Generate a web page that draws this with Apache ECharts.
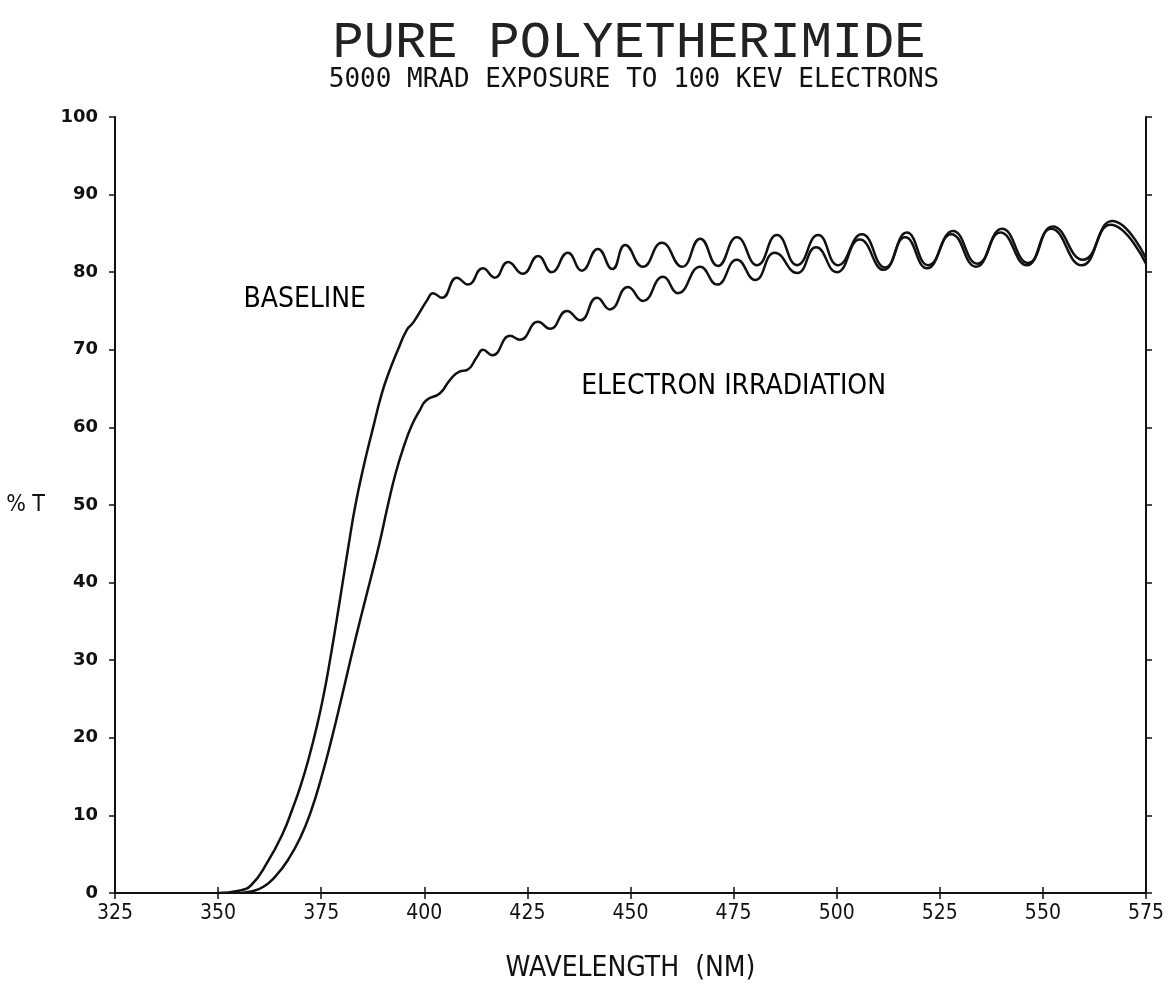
<!DOCTYPE html>
<html>
<head>
<meta charset="utf-8">
<title>Pure Polyetherimide</title>
<script src="https://cdn.jsdelivr.net/npm/echarts@6/dist/echarts.min.js"></script>
<style>
  html, body { margin: 0; padding: 0; background: #fff; }
  #chart { width: 1167px; height: 1008px; }
</style>
</head>
<body>
<div id="chart"></div>
<script>
// wavelength (nm) and %T
const baselineNm = [350, 355, 358, 362, 365.7, 368, 370, 372, 374, 375.7, 377.2, 378.7, 380.2, 381.7, 383.3, 385.3, 387.6, 389.5, 391, 393.6, 395.8, 397.3,
  400.7, 402.1, 404.3, 407.9, 410.6, 414.2, 417.1, 420.3, 423.9, 427.6, 430.9, 434.8, 438.2, 442.1, 445.6, 448.7, 453.0, 457.6, 462.5,
  466.9, 471.2, 475.8, 480.7, 485.5, 490.4, 495.5, 500.3, 506.1, 511.7, 517.0, 522.2, 528.2, 534.1, 540.1, 546.4, 552.4, 559.7, 566.8, 575];
const baselinePct = [0, 0.3, 1.0, 4.0, 7.7, 10.8, 13.8, 17.4, 21.6, 25.8, 30.2, 35, 40, 45, 50, 55, 60, 64, 66.5, 70, 72.6, 73.5,
  76.4, 77.3, 76.7, 79.3, 78.4, 80.5, 79.3, 81.3, 79.8, 82.1, 80.0, 82.5, 80.2, 83.0, 80.4, 83.5, 80.7, 83.8, 80.7,
  84.3, 80.8, 84.5, 80.9, 84.8, 80.9, 84.8, 80.9, 84.9, 80.6, 85.1, 80.9, 85.3, 81.1, 85.6, 81.2, 85.9, 81.6, 86.6, 81.8];

const electronNm = [355, 358, 361, 364, 367, 370, 372.5, 375, 377.5, 380, 382.3, 384.6, 386.9, 389.1, 391.1, 393, 395, 397, 399, 400.5,
  403.8, 406.2, 408.5, 410.4, 412.8, 414.2, 416.5, 420.8, 423.2, 427.6, 430.5, 434.6, 437.8, 441.9, 445.0, 449.4, 453.0, 457.9, 461.5,
  466.9, 471.0, 475.8, 480.2, 485.0, 490.4, 495.0, 500.0, 505.6, 511.4, 516.6, 521.9, 527.8, 533.8, 539.7, 546.1, 552.0, 559.4, 566.4, 575];
const electronPct = [0, 0.2, 0.8, 2.2, 4.3, 7.2, 10.5, 14.8, 19.8, 25.3, 30.5, 35.5, 40.3, 45, 49.8, 54, 57.5, 60.3, 62.3, 63.5,
  64.4, 66.1, 67.2, 67.4, 69.1, 70.0, 69.3, 71.8, 71.3, 73.6, 72.7, 75.0, 73.8, 76.7, 75.2, 78.1, 76.3, 79.4, 77.3,
  80.7, 78.4, 81.6, 79.0, 82.5, 79.9, 83.2, 80.0, 84.2, 80.3, 84.5, 80.5, 84.9, 80.7, 85.1, 80.9, 85.6, 80.9, 86.1, 81.1];

// curve captions, placed in data space
const captions = [
  { text: 'BASELINE', at: [371, 76.4] },
  { text: 'ELECTRON IRRADIATION', at: [475, 65.3] }
];

const xMin = 325, xMax = 575, xStep = 25;
const yMin = 0, yMax = 100, yStep = 10;

const pairs = (xs, ys) => xs.map((x, i) => [x, ys[i]]);

const narrow = '"Liberation Sans Narrow", "DejaVu Sans Condensed", "Liberation Sans", sans-serif';
const ink = '#111';

const chart = echarts.init(document.getElementById('chart'));

const axisCommon = {
  type: 'value',
  axisLine: { show: true, lineStyle: { color: ink, width: 2 } },
  axisTick: { show: true, length: 6, lineStyle: { color: ink, width: 1.5 } },
  splitLine: { show: false }
};

const caption = (c) => ({
  type: 'scatter',
  data: [c.at],
  symbol: 'rect',
  symbolSize: 0,
  itemStyle: { color: ink },
  silent: true,
  label: { show: true, position: 'inside', formatter: c.text, fontFamily: narrow, fontSize: 28, color: '#000', opacity: 1 }
});

chart.setOption({
  backgroundColor: '#fff',
  animation: false,
  title: [
    {
      text: 'PURE POLYETHERIMIDE',
      left: 624, top: 12, textAlign: 'center',
      textStyle: { fontFamily: '"Liberation Mono", monospace', fontWeight: 'normal', fontSize: 52, color: '#222' }
    },
    {
      text: '5000 MRAD EXPOSURE TO 100 KEV ELECTRONS',
      left: 629, top: 62, textAlign: 'center',
      textStyle: { fontFamily: '"DejaVu Sans Mono", monospace', fontWeight: 'normal', fontSize: 26, color: ink }
    }
  ],
  grid: { left: 115, right: 21, top: 117, bottom: 115, containLabel: false, outerBoundsMode: 'none' },
  xAxis: [
    Object.assign({}, axisCommon, {
      position: 'bottom', min: xMin, max: xMax, interval: xStep,
      name: 'WAVELENGTH  (NM)', nameLocation: 'middle', nameGap: 62,
      nameTextStyle: { fontFamily: narrow, fontSize: 28, color: ink },
      axisLabel: { margin: 10, fontFamily: narrow, fontSize: 21, color: ink }
    }),
    Object.assign({}, axisCommon, {
      position: 'top', min: xMin, max: xMax, interval: xStep,
      axisLabel: { show: false }
    })
  ],
  yAxis: [
    Object.assign({}, axisCommon, {
      position: 'left', min: yMin, max: yMax, interval: yStep,
      name: '% T', nameLocation: 'middle', nameRotate: 0, nameGap: 70,
      nameTextStyle: { fontFamily: narrow, fontSize: 23, color: ink },
      axisLabel: { margin: 17, fontFamily: '"DejaVu Sans", sans-serif', fontWeight: 'bold', fontSize: 18, color: ink }
    }),
    Object.assign({}, axisCommon, {
      position: 'right', min: yMin, max: yMax, interval: yStep,
      axisLabel: { show: false }
    })
  ],
  series: [
    {
      name: 'BASELINE',
      type: 'line',
      data: pairs(baselineNm, baselinePct),
      smooth: 0.5,
      showSymbol: false,
      lineStyle: { color: ink, width: 2.5 }
    },
    {
      name: 'ELECTRON IRRADIATION',
      type: 'line',
      data: pairs(electronNm, electronPct),
      smooth: 0.5,
      showSymbol: false,
      lineStyle: { color: ink, width: 2.5 }
    }
  ].concat(captions.map(caption))
});
</script>
</body>
</html>
